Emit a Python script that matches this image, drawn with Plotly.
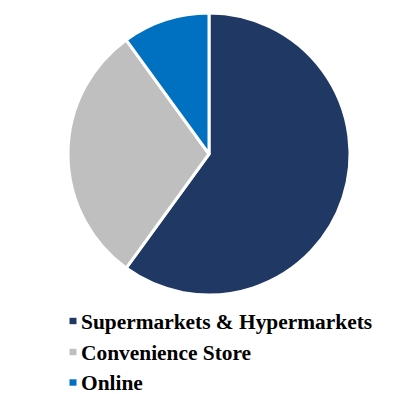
import plotly.graph_objects as go

categories = ["Supermarkets & Hypermarkets", "Convenience Store", "Online"]
shares = [60, 30, 10]
colors = ["#203864", "#BFBFBF", "#0070C0"]

W, H = 393, 394

fig = go.Figure()
fig.add_trace(go.Pie(
    labels=categories,
    values=shares,
    sort=False,
    direction="clockwise",
    rotation=0,
    marker=dict(colors=colors, line=dict(color="white", width=3)),
    textinfo="none",
    hoverinfo="label+percent",
    showlegend=False,
    domain=dict(x=[68 / W, 350 / W], y=[(H - 295) / H, (H - 13) / H]),
))

# Legend rows: small coloured key square followed by a bold serif label
row_y = [321, 352, 382.5]
for cat, col, yy in zip(categories, colors, row_y):
    fig.add_shape(
        type="rect", xref="paper", yref="paper",
        x0=69.5 / W, x1=76.5 / W, y0=(H - yy - 3.2) / H, y1=(H - yy + 3.2) / H,
        fillcolor=col, line=dict(width=0),
    )
    fig.add_annotation(
        x=80 / W, y=(H - yy - 0.5) / H, xref="paper", yref="paper",
        xanchor="left", yanchor="middle", showarrow=False, borderpad=0,
        text=f"<b>{cat}</b>",
        font=dict(family="Liberation Serif", size=21.4, color="#000000"),
    )

fig.update_layout(
    width=W, height=H,
    margin=dict(l=0, r=0, t=0, b=0),
    paper_bgcolor="white", plot_bgcolor="white",
    showlegend=False,
)

fig.write_html("out.html")
